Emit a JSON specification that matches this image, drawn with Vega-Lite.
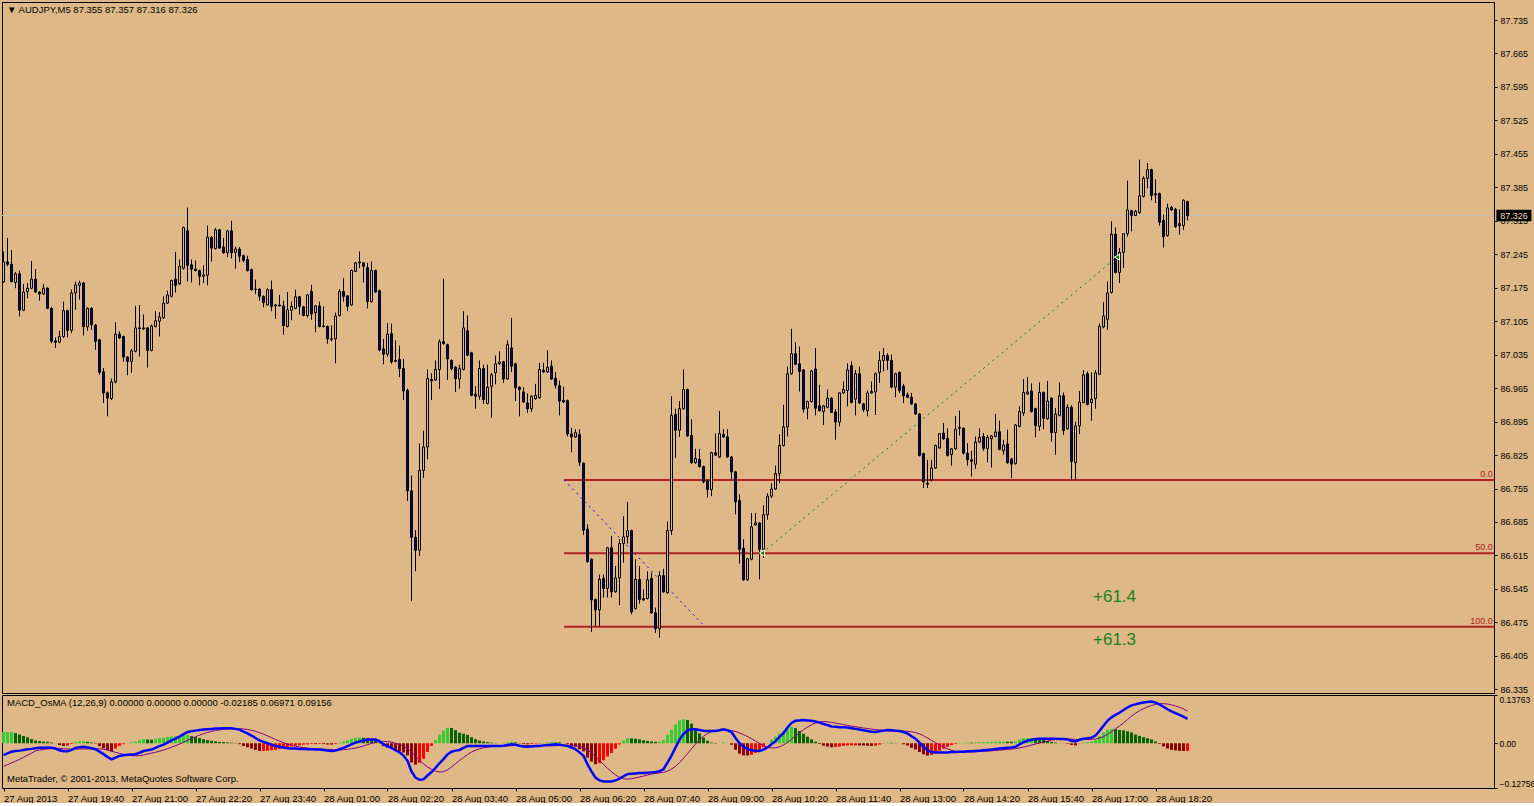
{
"$schema":"https://vega.github.io/schema/vega-lite/v6.json",
"background":"#deb887",
"padding":{"left":-2,"top":1,"right":0,"bottom":0},
"spacing":2,
"bounds":"flush",
"config":{"view":{"stroke":"#000000","strokeWidth":1},"font":"Liberation Sans","axis":{"labelFont":"Liberation Sans","labelFontSize":9,"labelColor":"#000000","tickColor":"#000000","tickSize":3,"labelPadding":3,"domain":false,"grid":false,"title":null,"labelOverlap":false}},
"datasets":{
"bars":[
{"i":0,"open":87.187,"high":87.251,"low":87.185,"close":87.229,"macd":-0.034,"signal":-0.066,"osma":0.032},
{"i":1,"open":87.229,"high":87.279,"low":87.220,"close":87.224,"macd":-0.029,"signal":-0.061,"osma":0.032},
{"i":2,"open":87.224,"high":87.254,"low":87.186,"close":87.188,"macd":-0.024,"signal":-0.056,"osma":0.032},
{"i":3,"open":87.186,"high":87.208,"low":87.174,"close":87.204,"macd":-0.022,"signal":-0.051,"osma":0.029},
{"i":4,"open":87.204,"high":87.211,"low":87.115,"close":87.128,"macd":-0.021,"signal":-0.046,"osma":0.025},
{"i":5,"open":87.128,"high":87.183,"low":87.126,"close":87.166,"macd":-0.019,"signal":-0.040,"osma":0.021},
{"i":6,"open":87.167,"high":87.185,"low":87.153,"close":87.174,"macd":-0.017,"signal":-0.034,"osma":0.017},
{"i":7,"open":87.174,"high":87.231,"low":87.172,"close":87.193,"macd":-0.016,"signal":-0.028,"osma":0.012},
{"i":8,"open":87.193,"high":87.214,"low":87.164,"close":87.166,"macd":-0.014,"signal":-0.0218,"osma":0.0078},
{"i":9,"open":87.166,"high":87.168,"low":87.148,"close":87.162,"macd":-0.013,"signal":-0.0194,"osma":0.0064},
{"i":10,"open":87.162,"high":87.183,"low":87.160,"close":87.174,"macd":-0.013,"signal":-0.0177,"osma":0.0047},
{"i":11,"open":87.174,"high":87.176,"low":87.130,"close":87.132,"macd":-0.012,"signal":-0.0163,"osma":0.0043},
{"i":12,"open":87.132,"high":87.134,"low":87.059,"close":87.063,"macd":-0.013,"signal":-0.0153,"osma":0.0023},
{"i":13,"open":87.064,"high":87.071,"low":87.049,"close":87.061,"macd":-0.015,"signal":-0.0147,"osma":-0.0003},
{"i":14,"open":87.061,"high":87.085,"low":87.059,"close":87.073,"macd":-0.020,"signal":-0.0148,"osma":-0.0052},
{"i":15,"open":87.073,"high":87.146,"low":87.070,"close":87.127,"macd":-0.023,"signal":-0.0154,"osma":-0.0076},
{"i":16,"open":87.127,"high":87.129,"low":87.071,"close":87.086,"macd":-0.023,"signal":-0.0162,"osma":-0.0068},
{"i":17,"open":87.086,"high":87.171,"low":87.080,"close":87.164,"macd":-0.019,"signal":-0.0168,"osma":-0.0022},
{"i":18,"open":87.164,"high":87.188,"low":87.129,"close":87.181,"macd":-0.013,"signal":-0.0168,"osma":0.0038},
{"i":19,"open":87.180,"high":87.190,"low":87.150,"close":87.185,"macd":-0.011,"signal":-0.0166,"osma":0.0056},
{"i":20,"open":87.185,"high":87.187,"low":87.075,"close":87.094,"macd":-0.010,"signal":-0.0163,"osma":0.0063},
{"i":21,"open":87.093,"high":87.134,"low":87.085,"close":87.132,"macd":-0.012,"signal":-0.0162,"osma":0.0042},
{"i":22,"open":87.132,"high":87.134,"low":87.087,"close":87.098,"macd":-0.014,"signal":-0.0161,"osma":0.0021},
{"i":23,"open":87.097,"high":87.099,"low":87.045,"close":87.063,"macd":-0.017,"signal":-0.0158,"osma":-0.0012},
{"i":24,"open":87.066,"high":87.068,"low":86.993,"close":86.998,"macd":-0.024,"signal":-0.0159,"osma":-0.0081},
{"i":25,"open":86.999,"high":87.007,"low":86.934,"close":86.955,"macd":-0.031,"signal":-0.0168,"osma":-0.0142},
{"i":26,"open":86.955,"high":86.958,"low":86.906,"close":86.944,"macd":-0.039,"signal":-0.0190,"osma":-0.0200},
{"i":27,"open":86.943,"high":86.985,"low":86.940,"close":86.978,"macd":-0.046,"signal":-0.0227,"osma":-0.0233},
{"i":28,"open":86.978,"high":87.103,"low":86.975,"close":87.078,"macd":-0.041,"signal":-0.0260,"osma":-0.0150},
{"i":29,"open":87.078,"high":87.084,"low":87.068,"close":87.070,"macd":-0.036,"signal":-0.0289,"osma":-0.0071},
{"i":30,"open":87.073,"high":87.075,"low":87.020,"close":87.030,"macd":-0.034,"signal":-0.0313,"osma":-0.0027},
{"i":31,"open":87.030,"high":87.032,"low":86.992,"close":87.021,"macd":-0.033,"signal":-0.0334,"osma":0.0004},
{"i":32,"open":87.021,"high":87.047,"low":86.997,"close":87.043,"macd":-0.032,"signal":-0.0351,"osma":0.0031},
{"i":33,"open":87.042,"high":87.137,"low":87.040,"close":87.091,"macd":-0.031,"signal":-0.0359,"osma":0.0049},
{"i":34,"open":87.091,"high":87.139,"low":87.031,"close":87.089,"macd":-0.027,"signal":-0.0354,"osma":0.0084},
{"i":35,"open":87.089,"high":87.119,"low":87.087,"close":87.091,"macd":-0.022,"signal":-0.0336,"osma":0.0116},
{"i":36,"open":87.091,"high":87.093,"low":87.008,"close":87.044,"macd":-0.020,"signal":-0.0307,"osma":0.0107},
{"i":37,"open":87.044,"high":87.098,"low":87.042,"close":87.095,"macd":-0.018,"signal":-0.0281,"osma":0.0101},
{"i":38,"open":87.094,"high":87.126,"low":87.092,"close":87.106,"macd":-0.013,"signal":-0.0256,"osma":0.0126},
{"i":39,"open":87.105,"high":87.124,"low":87.073,"close":87.114,"macd":-0.008,"signal":-0.0227,"osma":0.0147},
{"i":40,"open":87.112,"high":87.157,"low":87.110,"close":87.143,"macd":-0.004,"signal":-0.0194,"osma":0.0154},
{"i":41,"open":87.143,"high":87.169,"low":87.141,"close":87.160,"macd":0.002,"signal":-0.0157,"osma":0.0177},
{"i":42,"open":87.157,"high":87.192,"low":87.155,"close":87.190,"macd":0.008,"signal":-0.0113,"osma":0.0193},
{"i":43,"open":87.193,"high":87.250,"low":87.165,"close":87.180,"macd":0.013,"signal":-0.0069,"osma":0.0199},
{"i":44,"open":87.183,"high":87.234,"low":87.181,"close":87.220,"macd":0.019,"signal":-0.0023,"osma":0.0213},
{"i":45,"open":87.216,"high":87.303,"low":87.213,"close":87.301,"macd":0.026,"signal":0.0028,"osma":0.0232},
{"i":46,"open":87.294,"high":87.343,"low":87.188,"close":87.222,"macd":0.032,"signal":0.0083,"osma":0.0237},
{"i":47,"open":87.223,"high":87.234,"low":87.186,"close":87.214,"macd":0.034,"signal":0.0136,"osma":0.0204},
{"i":48,"open":87.214,"high":87.232,"low":87.209,"close":87.211,"macd":0.036,"signal":0.0184,"osma":0.0176},
{"i":49,"open":87.211,"high":87.213,"low":87.180,"close":87.199,"macd":0.038,"signal":0.0231,"osma":0.0149},
{"i":50,"open":87.199,"high":87.222,"low":87.185,"close":87.202,"macd":0.039,"signal":0.0272,"osma":0.0118},
{"i":51,"open":87.201,"high":87.305,"low":87.180,"close":87.281,"macd":0.040,"signal":0.0308,"osma":0.0092},
{"i":52,"open":87.280,"high":87.283,"low":87.230,"close":87.258,"macd":0.041,"signal":0.0339,"osma":0.0071},
{"i":53,"open":87.257,"high":87.300,"low":87.255,"close":87.296,"macd":0.042,"signal":0.0364,"osma":0.0056},
{"i":54,"open":87.296,"high":87.298,"low":87.256,"close":87.258,"macd":0.042,"signal":0.0382,"osma":0.0038},
{"i":55,"open":87.260,"high":87.279,"low":87.246,"close":87.248,"macd":0.043,"signal":0.0394,"osma":0.0036},
{"i":56,"open":87.248,"high":87.296,"low":87.239,"close":87.294,"macd":0.043,"signal":0.0404,"osma":0.0026},
{"i":57,"open":87.294,"high":87.315,"low":87.236,"close":87.248,"macd":0.043,"signal":0.0412,"osma":0.0018},
{"i":58,"open":87.249,"high":87.261,"low":87.215,"close":87.256,"macd":0.041,"signal":0.0416,"osma":-0.0006},
{"i":59,"open":87.256,"high":87.260,"low":87.229,"close":87.241,"macd":0.039,"signal":0.0416,"osma":-0.0026},
{"i":60,"open":87.242,"high":87.244,"low":87.228,"close":87.232,"macd":0.033,"signal":0.0408,"osma":-0.0078},
{"i":61,"open":87.234,"high":87.242,"low":87.209,"close":87.211,"macd":0.028,"signal":0.0393,"osma":-0.0113},
{"i":62,"open":87.213,"high":87.215,"low":87.169,"close":87.171,"macd":0.022,"signal":0.0371,"osma":-0.0151},
{"i":63,"open":87.172,"high":87.192,"low":87.162,"close":87.171,"macd":0.015,"signal":0.0341,"osma":-0.0191},
{"i":64,"open":87.172,"high":87.174,"low":87.148,"close":87.157,"macd":0.008,"signal":0.0302,"osma":-0.0222},
{"i":65,"open":87.157,"high":87.159,"low":87.134,"close":87.144,"macd":0.004,"signal":0.0259,"osma":-0.0219},
{"i":66,"open":87.139,"high":87.174,"low":87.138,"close":87.171,"macd":0.000,"signal":0.0211,"osma":-0.0211},
{"i":67,"open":87.171,"high":87.190,"low":87.126,"close":87.136,"macd":-0.004,"signal":0.0161,"osma":-0.0201},
{"i":68,"open":87.137,"high":87.141,"low":87.110,"close":87.139,"macd":-0.008,"signal":0.0109,"osma":-0.0189},
{"i":69,"open":87.139,"high":87.160,"low":87.136,"close":87.137,"macd":-0.010,"signal":0.0061,"osma":-0.0161},
{"i":70,"open":87.137,"high":87.148,"low":87.077,"close":87.096,"macd":-0.012,"signal":0.0017,"osma":-0.0137},
{"i":71,"open":87.094,"high":87.166,"low":87.092,"close":87.129,"macd":-0.014,"signal":-0.0023,"osma":-0.0117},
{"i":72,"open":87.128,"high":87.146,"low":87.107,"close":87.136,"macd":-0.015,"signal":-0.0057,"osma":-0.0093},
{"i":73,"open":87.132,"high":87.171,"low":87.130,"close":87.156,"macd":-0.015,"signal":-0.0082,"osma":-0.0068},
{"i":74,"open":87.156,"high":87.158,"low":87.119,"close":87.136,"macd":-0.016,"signal":-0.0104,"osma":-0.0056},
{"i":75,"open":87.135,"high":87.137,"low":87.115,"close":87.117,"macd":-0.016,"signal":-0.0122,"osma":-0.0038},
{"i":76,"open":87.117,"high":87.162,"low":87.113,"close":87.160,"macd":-0.017,"signal":-0.0137,"osma":-0.0033},
{"i":77,"open":87.167,"high":87.181,"low":87.108,"close":87.120,"macd":-0.017,"signal":-0.0147,"osma":-0.0023},
{"i":78,"open":87.123,"high":87.139,"low":87.082,"close":87.137,"macd":-0.018,"signal":-0.0156,"osma":-0.0024},
{"i":79,"open":87.137,"high":87.146,"low":87.092,"close":87.094,"macd":-0.018,"signal":-0.0162,"osma":-0.0018},
{"i":80,"open":87.095,"high":87.136,"low":87.092,"close":87.094,"macd":-0.019,"signal":-0.0168,"osma":-0.0022},
{"i":81,"open":87.094,"high":87.096,"low":87.058,"close":87.068,"macd":-0.021,"signal":-0.0174,"osma":-0.0036},
{"i":82,"open":87.068,"high":87.096,"low":87.063,"close":87.067,"macd":-0.022,"signal":-0.0182,"osma":-0.0038},
{"i":83,"open":87.068,"high":87.123,"low":87.017,"close":87.116,"macd":-0.021,"signal":-0.0188,"osma":-0.0022},
{"i":84,"open":87.117,"high":87.172,"low":87.115,"close":87.167,"macd":-0.017,"signal":-0.0189,"osma":0.0019},
{"i":85,"open":87.167,"high":87.195,"low":87.146,"close":87.157,"macd":-0.013,"signal":-0.0184,"osma":0.0054},
{"i":86,"open":87.158,"high":87.160,"low":87.126,"close":87.136,"macd":-0.008,"signal":-0.0174,"osma":0.0094},
{"i":87,"open":87.139,"high":87.213,"low":87.137,"close":87.211,"macd":-0.003,"signal":-0.0158,"osma":0.0128},
{"i":88,"open":87.209,"high":87.229,"low":87.209,"close":87.227,"macd":0.002,"signal":-0.0136,"osma":0.0156},
{"i":89,"open":87.227,"high":87.251,"low":87.216,"close":87.229,"macd":0.005,"signal":-0.0109,"osma":0.0159},
{"i":90,"open":87.227,"high":87.229,"low":87.186,"close":87.220,"macd":0.008,"signal":-0.0077,"osma":0.0157},
{"i":91,"open":87.217,"high":87.227,"low":87.132,"close":87.146,"macd":0.011,"signal":-0.0040,"osma":0.0150},
{"i":92,"open":87.146,"high":87.230,"low":87.144,"close":87.211,"macd":0.011,"signal":-0.0004,"osma":0.0114},
{"i":93,"open":87.211,"high":87.213,"low":87.164,"close":87.166,"macd":0.011,"signal":0.0027,"osma":0.0083},
{"i":94,"open":87.169,"high":87.171,"low":87.042,"close":87.045,"macd":0.006,"signal":0.0048,"osma":0.0012},
{"i":95,"open":87.047,"high":87.068,"low":87.015,"close":87.036,"macd":-0.003,"signal":0.0053,"osma":-0.0083},
{"i":96,"open":87.036,"high":87.101,"low":87.031,"close":87.078,"macd":-0.008,"signal":0.0048,"osma":-0.0128},
{"i":97,"open":87.079,"high":87.100,"low":87.016,"close":87.020,"macd":-0.013,"signal":0.0031,"osma":-0.0161},
{"i":98,"open":87.021,"high":87.065,"low":87.019,"close":87.023,"macd":-0.020,"signal":0.0003,"osma":-0.0203},
{"i":99,"open":87.025,"high":87.054,"low":86.988,"close":87.006,"macd":-0.026,"signal":-0.0034,"osma":-0.0226},
{"i":100,"open":87.006,"high":87.026,"low":86.940,"close":86.959,"macd":-0.035,"signal":-0.0086,"osma":-0.0264},
{"i":101,"open":86.960,"high":86.964,"low":86.729,"close":86.750,"macd":-0.050,"signal":-0.0153,"osma":-0.0347},
{"i":102,"open":86.750,"high":86.782,"low":86.520,"close":86.653,"macd":-0.080,"signal":-0.0254,"osma":-0.0546},
{"i":103,"open":86.653,"high":86.668,"low":86.582,"close":86.626,"macd":-0.098,"signal":-0.0370,"osma":-0.0610},
{"i":104,"open":86.626,"high":86.849,"low":86.614,"close":86.793,"macd":-0.104,"signal":-0.0482,"osma":-0.0558},
{"i":105,"open":86.793,"high":86.876,"low":86.777,"close":86.842,"macd":-0.103,"signal":-0.0588,"osma":-0.0442},
{"i":106,"open":86.842,"high":87.004,"low":86.816,"close":86.985,"macd":-0.092,"signal":-0.0676,"osma":-0.0244},
{"i":107,"open":86.983,"high":86.996,"low":86.940,"close":86.980,"macd":-0.082,"signal":-0.0744,"osma":-0.0076},
{"i":108,"open":86.982,"high":87.023,"low":86.980,"close":87.004,"macd":-0.070,"signal":-0.0793,"osma":0.0093},
{"i":109,"open":87.004,"high":87.067,"low":86.963,"close":87.062,"macd":-0.057,"signal":-0.0818,"osma":0.0248},
{"i":110,"open":87.062,"high":87.194,"low":87.056,"close":87.058,"macd":-0.045,"signal":-0.0812,"osma":0.0362},
{"i":111,"open":87.056,"high":87.058,"low":86.982,"close":87.026,"macd":-0.032,"signal":-0.0759,"osma":0.0439},
{"i":112,"open":87.023,"high":87.025,"low":87.002,"close":87.006,"macd":-0.024,"signal":-0.0677,"osma":0.0437},
{"i":113,"open":87.009,"high":87.011,"low":86.957,"close":86.985,"macd":-0.021,"signal":-0.0584,"osma":0.0374},
{"i":114,"open":86.984,"high":87.014,"low":86.964,"close":87.006,"macd":-0.019,"signal":-0.0491,"osma":0.0301},
{"i":115,"open":87.004,"high":87.126,"low":87.002,"close":87.091,"macd":-0.013,"signal":-0.0403,"osma":0.0273},
{"i":116,"open":87.085,"high":87.117,"low":87.032,"close":87.034,"macd":-0.008,"signal":-0.0321,"osma":0.0241},
{"i":117,"open":87.039,"high":87.041,"low":86.948,"close":86.950,"macd":-0.008,"signal":-0.0252,"osma":0.0172},
{"i":118,"open":86.952,"high":86.969,"low":86.922,"close":86.948,"macd":-0.008,"signal":-0.0198,"osma":0.0118},
{"i":119,"open":86.948,"high":87.023,"low":86.941,"close":87.006,"macd":-0.008,"signal":-0.0157,"osma":0.0077},
{"i":120,"open":87.006,"high":87.014,"low":86.932,"close":86.941,"macd":-0.008,"signal":-0.0130,"osma":0.0050},
{"i":121,"open":86.933,"high":87.014,"low":86.931,"close":86.967,"macd":-0.008,"signal":-0.0112,"osma":0.0032},
{"i":122,"open":86.969,"high":86.997,"low":86.903,"close":86.993,"macd":-0.008,"signal":-0.0098,"osma":0.0018},
{"i":123,"open":86.997,"high":87.033,"low":86.973,"close":87.016,"macd":-0.008,"signal":-0.0086,"osma":0.0006},
{"i":124,"open":87.016,"high":87.042,"low":87.014,"close":87.020,"macd":-0.008,"signal":-0.0080,"osma":0.0000},
{"i":125,"open":87.020,"high":87.022,"low":86.976,"close":86.984,"macd":-0.007,"signal":-0.0079,"osma":0.0009},
{"i":126,"open":86.984,"high":87.065,"low":86.982,"close":87.056,"macd":-0.005,"signal":-0.0076,"osma":0.0026},
{"i":127,"open":87.049,"high":87.112,"low":86.999,"close":87.011,"macd":-0.003,"signal":-0.0070,"osma":0.0040},
{"i":128,"open":87.016,"high":87.018,"low":86.938,"close":86.966,"macd":-0.004,"signal":-0.0066,"osma":0.0026},
{"i":129,"open":86.967,"high":86.969,"low":86.906,"close":86.962,"macd":-0.007,"signal":-0.0064,"osma":-0.0006},
{"i":130,"open":86.957,"high":86.967,"low":86.934,"close":86.936,"macd":-0.009,"signal":-0.0066,"osma":-0.0024},
{"i":131,"open":86.934,"high":86.954,"low":86.913,"close":86.922,"macd":-0.010,"signal":-0.0068,"osma":-0.0032},
{"i":132,"open":86.922,"high":86.950,"low":86.915,"close":86.948,"macd":-0.009,"signal":-0.0069,"osma":-0.0021},
{"i":133,"open":86.943,"high":86.974,"low":86.941,"close":86.950,"macd":-0.008,"signal":-0.0069,"osma":-0.0011},
{"i":134,"open":86.945,"high":87.018,"low":86.943,"close":87.004,"macd":-0.008,"signal":-0.0070,"osma":-0.0010},
{"i":135,"open":87.002,"high":87.018,"low":86.997,"close":86.999,"macd":-0.006,"signal":-0.0071,"osma":0.0011},
{"i":136,"open":86.999,"high":87.044,"low":86.997,"close":87.009,"macd":-0.005,"signal":-0.0073,"osma":0.0023},
{"i":137,"open":87.011,"high":87.023,"low":86.982,"close":86.984,"macd":-0.004,"signal":-0.0073,"osma":0.0033},
{"i":138,"open":86.986,"high":86.999,"low":86.964,"close":86.971,"macd":-0.003,"signal":-0.0069,"osma":0.0039},
{"i":139,"open":86.970,"high":86.981,"low":86.908,"close":86.938,"macd":-0.004,"signal":-0.0063,"osma":0.0023},
{"i":140,"open":86.939,"high":86.968,"low":86.934,"close":86.936,"macd":-0.006,"signal":-0.0059,"osma":-0.0001},
{"i":141,"open":86.939,"high":86.941,"low":86.864,"close":86.869,"macd":-0.008,"signal":-0.0058,"osma":-0.0022},
{"i":142,"open":86.869,"high":86.882,"low":86.831,"close":86.863,"macd":-0.012,"signal":-0.0062,"osma":-0.0058},
{"i":143,"open":86.863,"high":86.879,"low":86.861,"close":86.872,"macd":-0.017,"signal":-0.0072,"osma":-0.0098},
{"i":144,"open":86.868,"high":86.879,"low":86.802,"close":86.810,"macd":-0.026,"signal":-0.0094,"osma":-0.0166},
{"i":145,"open":86.808,"high":86.810,"low":86.658,"close":86.668,"macd":-0.036,"signal":-0.0129,"osma":-0.0231},
{"i":146,"open":86.670,"high":86.680,"low":86.600,"close":86.602,"macd":-0.060,"signal":-0.0191,"osma":-0.0409},
{"i":147,"open":86.607,"high":86.609,"low":86.455,"close":86.522,"macd":-0.080,"signal":-0.0277,"osma":-0.0523},
{"i":148,"open":86.523,"high":86.525,"low":86.467,"close":86.501,"macd":-0.098,"signal":-0.0381,"osma":-0.0599},
{"i":149,"open":86.501,"high":86.575,"low":86.467,"close":86.565,"macd":-0.106,"signal":-0.0492,"osma":-0.0568},
{"i":150,"open":86.567,"high":86.575,"low":86.527,"close":86.546,"macd":-0.109,"signal":-0.0604,"osma":-0.0486},
{"i":151,"open":86.546,"high":86.633,"low":86.527,"close":86.631,"macd":-0.109,"signal":-0.0712,"osma":-0.0378},
{"i":152,"open":86.631,"high":86.656,"low":86.527,"close":86.539,"macd":-0.109,"signal":-0.0814,"osma":-0.0276},
{"i":153,"open":86.539,"high":86.593,"low":86.537,"close":86.568,"macd":-0.106,"signal":-0.0903,"osma":-0.0157},
{"i":154,"open":86.568,"high":86.649,"low":86.511,"close":86.640,"macd":-0.101,"signal":-0.0976,"osma":-0.0034},
{"i":155,"open":86.640,"high":86.697,"low":86.600,"close":86.654,"macd":-0.094,"signal":-0.1013,"osma":0.0073},
{"i":156,"open":86.654,"high":86.727,"low":86.640,"close":86.667,"macd":-0.088,"signal":-0.1022,"osma":0.0142},
{"i":157,"open":86.667,"high":86.669,"low":86.492,"close":86.497,"macd":-0.087,"signal":-0.1010,"osma":0.0140},
{"i":158,"open":86.504,"high":86.607,"low":86.502,"close":86.565,"macd":-0.086,"signal":-0.0988,"osma":0.0128},
{"i":159,"open":86.565,"high":86.593,"low":86.514,"close":86.523,"macd":-0.085,"signal":-0.0961,"osma":0.0111},
{"i":160,"open":86.525,"high":86.544,"low":86.520,"close":86.522,"macd":-0.085,"signal":-0.0934,"osma":0.0084},
{"i":161,"open":86.525,"high":86.582,"low":86.523,"close":86.564,"macd":-0.084,"signal":-0.0907,"osma":0.0067},
{"i":162,"open":86.567,"high":86.579,"low":86.493,"close":86.495,"macd":-0.083,"signal":-0.0881,"osma":0.0051},
{"i":163,"open":86.495,"high":86.506,"low":86.453,"close":86.462,"macd":-0.082,"signal":-0.0860,"osma":0.0040},
{"i":164,"open":86.462,"high":86.582,"low":86.443,"close":86.573,"macd":-0.080,"signal":-0.0844,"osma":0.0044},
{"i":165,"open":86.573,"high":86.587,"low":86.537,"close":86.539,"macd":-0.074,"signal":-0.0829,"osma":0.0089},
{"i":166,"open":86.537,"high":86.686,"low":86.535,"close":86.667,"macd":-0.055,"signal":-0.0793,"osma":0.0243},
{"i":167,"open":86.667,"high":86.948,"low":86.658,"close":86.908,"macd":-0.035,"signal":-0.0737,"osma":0.0387},
{"i":168,"open":86.910,"high":86.922,"low":86.819,"close":86.877,"macd":-0.012,"signal":-0.0656,"osma":0.0536},
{"i":169,"open":86.877,"high":86.938,"low":86.863,"close":86.922,"macd":0.010,"signal":-0.0550,"osma":0.0650},
{"i":170,"open":86.922,"high":87.004,"low":86.920,"close":86.962,"macd":0.026,"signal":-0.0428,"osma":0.0688},
{"i":171,"open":86.962,"high":86.964,"low":86.863,"close":86.865,"macd":0.037,"signal":-0.0294,"osma":0.0664},
{"i":172,"open":86.866,"high":86.900,"low":86.807,"close":86.809,"macd":0.040,"signal":-0.0159,"osma":0.0559},
{"i":173,"open":86.809,"high":86.838,"low":86.807,"close":86.818,"macd":0.040,"signal":-0.0026,"osma":0.0426},
{"i":174,"open":86.816,"high":86.838,"low":86.799,"close":86.801,"macd":0.038,"signal":0.0099,"osma":0.0281},
{"i":175,"open":86.801,"high":86.803,"low":86.766,"close":86.769,"macd":0.036,"signal":0.0200,"osma":0.0160},
{"i":176,"open":86.771,"high":86.773,"low":86.736,"close":86.753,"macd":0.035,"signal":0.0278,"osma":0.0072},
{"i":177,"open":86.753,"high":86.832,"low":86.739,"close":86.830,"macd":0.035,"signal":0.0330,"osma":0.0020},
{"i":178,"open":86.830,"high":86.870,"low":86.823,"close":86.825,"macd":0.035,"signal":0.0358,"osma":-0.0008},
{"i":179,"open":86.821,"high":86.917,"low":86.819,"close":86.870,"macd":0.037,"signal":0.0370,"osma":0.0000},
{"i":180,"open":86.868,"high":86.879,"low":86.861,"close":86.863,"macd":0.040,"signal":0.0373,"osma":0.0027},
{"i":181,"open":86.863,"high":86.879,"low":86.819,"close":86.821,"macd":0.037,"signal":0.0370,"osma":0.0000},
{"i":182,"open":86.821,"high":86.823,"low":86.775,"close":86.790,"macd":0.032,"signal":0.0361,"osma":-0.0041},
{"i":183,"open":86.790,"high":86.792,"low":86.701,"close":86.727,"macd":0.015,"signal":0.0336,"osma":-0.0186},
{"i":184,"open":86.730,"high":86.743,"low":86.598,"close":86.628,"macd":0.000,"signal":0.0296,"osma":-0.0296},
{"i":185,"open":86.630,"high":86.649,"low":86.562,"close":86.564,"macd":-0.010,"signal":0.0246,"osma":-0.0346},
{"i":186,"open":86.564,"high":86.610,"low":86.562,"close":86.608,"macd":-0.016,"signal":0.0189,"osma":-0.0349},
{"i":187,"open":86.607,"high":86.704,"low":86.605,"close":86.675,"macd":-0.020,"signal":0.0128,"osma":-0.0328},
{"i":188,"open":86.679,"high":86.704,"low":86.677,"close":86.683,"macd":-0.021,"signal":0.0063,"osma":-0.0273},
{"i":189,"open":86.683,"high":86.685,"low":86.565,"close":86.628,"macd":-0.022,"signal":-0.0006,"osma":-0.0214},
{"i":190,"open":86.628,"high":86.720,"low":86.610,"close":86.700,"macd":-0.018,"signal":-0.0067,"osma":-0.0113},
{"i":191,"open":86.700,"high":86.745,"low":86.690,"close":86.739,"macd":-0.012,"signal":-0.0116,"osma":-0.0004},
{"i":192,"open":86.739,"high":86.766,"low":86.735,"close":86.754,"macd":-0.003,"signal":-0.0136,"osma":0.0106},
{"i":193,"open":86.754,"high":86.803,"low":86.752,"close":86.786,"macd":0.006,"signal":-0.0129,"osma":0.0189},
{"i":194,"open":86.786,"high":86.868,"low":86.766,"close":86.845,"macd":0.018,"signal":-0.0098,"osma":0.0278},
{"i":195,"open":86.845,"high":86.930,"low":86.843,"close":86.884,"macd":0.029,"signal":-0.0048,"osma":0.0338},
{"i":196,"open":86.884,"high":87.010,"low":86.864,"close":86.995,"macd":0.045,"signal":0.0024,"osma":0.0426},
{"i":197,"open":86.995,"high":87.089,"low":86.993,"close":87.037,"macd":0.058,"signal":0.0112,"osma":0.0468},
{"i":198,"open":87.037,"high":87.061,"low":87.013,"close":87.015,"macd":0.064,"signal":0.0208,"osma":0.0432},
{"i":199,"open":87.016,"high":87.052,"low":86.958,"close":87.000,"macd":0.065,"signal":0.0300,"osma":0.0350},
{"i":200,"open":87.003,"high":87.005,"low":86.914,"close":86.921,"macd":0.066,"signal":0.0387,"osma":0.0273},
{"i":201,"open":86.923,"high":86.939,"low":86.900,"close":86.937,"macd":0.065,"signal":0.0462,"osma":0.0188},
{"i":202,"open":86.937,"high":87.003,"low":86.935,"close":87.001,"macd":0.064,"signal":0.0527,"osma":0.0113},
{"i":203,"open":87.005,"high":87.049,"low":86.908,"close":86.923,"macd":0.062,"signal":0.0576,"osma":0.0044},
{"i":204,"open":86.928,"high":86.972,"low":86.916,"close":86.918,"macd":0.059,"signal":0.0609,"osma":-0.0019},
{"i":205,"open":86.916,"high":86.930,"low":86.888,"close":86.928,"macd":0.055,"signal":0.0620,"osma":-0.0070},
{"i":206,"open":86.925,"high":86.962,"low":86.923,"close":86.944,"macd":0.052,"signal":0.0613,"osma":-0.0093},
{"i":207,"open":86.944,"high":86.946,"low":86.913,"close":86.914,"macd":0.048,"signal":0.0596,"osma":-0.0116},
{"i":208,"open":86.915,"high":86.921,"low":86.857,"close":86.894,"macd":0.047,"signal":0.0576,"osma":-0.0106},
{"i":209,"open":86.894,"high":86.956,"low":86.885,"close":86.955,"macd":0.046,"signal":0.0553,"osma":-0.0093},
{"i":210,"open":86.955,"high":86.979,"low":86.953,"close":86.962,"macd":0.046,"signal":0.0532,"osma":-0.0072},
{"i":211,"open":86.960,"high":87.017,"low":86.927,"close":87.003,"macd":0.045,"signal":0.0511,"osma":-0.0061},
{"i":212,"open":87.012,"high":87.021,"low":86.933,"close":86.935,"macd":0.043,"signal":0.0490,"osma":-0.0060},
{"i":213,"open":86.942,"high":87.003,"low":86.908,"close":86.995,"macd":0.041,"signal":0.0470,"osma":-0.0060},
{"i":214,"open":86.995,"high":87.010,"low":86.932,"close":86.934,"macd":0.039,"signal":0.0452,"osma":-0.0062},
{"i":215,"open":86.932,"high":86.934,"low":86.915,"close":86.920,"macd":0.037,"signal":0.0436,"osma":-0.0066},
{"i":216,"open":86.918,"high":86.960,"low":86.906,"close":86.955,"macd":0.035,"signal":0.0421,"osma":-0.0071},
{"i":217,"open":86.955,"high":86.979,"low":86.953,"close":86.958,"macd":0.033,"signal":0.0406,"osma":-0.0076},
{"i":218,"open":86.957,"high":86.998,"low":86.909,"close":86.995,"macd":0.032,"signal":0.0390,"osma":-0.0070},
{"i":219,"open":86.998,"high":87.042,"low":86.976,"close":87.023,"macd":0.034,"signal":0.0377,"osma":-0.0037},
{"i":220,"open":87.023,"high":87.049,"low":87.000,"close":87.033,"macd":0.036,"signal":0.0367,"osma":-0.0007},
{"i":221,"open":87.033,"high":87.038,"low":87.003,"close":87.023,"macd":0.038,"signal":0.0361,"osma":0.0019},
{"i":222,"open":87.023,"high":87.035,"low":86.965,"close":86.967,"macd":0.037,"signal":0.0357,"osma":0.0013},
{"i":223,"open":86.967,"high":86.997,"low":86.946,"close":86.995,"macd":0.036,"signal":0.0353,"osma":0.0007},
{"i":224,"open":86.998,"high":87.000,"low":86.955,"close":86.960,"macd":0.035,"signal":0.0351,"osma":-0.0001},
{"i":225,"open":86.969,"high":86.974,"low":86.934,"close":86.949,"macd":0.032,"signal":0.0348,"osma":-0.0028},
{"i":226,"open":86.951,"high":86.956,"low":86.944,"close":86.946,"macd":0.028,"signal":0.0342,"osma":-0.0062},
{"i":227,"open":86.946,"high":86.955,"low":86.930,"close":86.932,"macd":0.020,"signal":0.0329,"osma":-0.0129},
{"i":228,"open":86.932,"high":86.934,"low":86.909,"close":86.911,"macd":0.013,"signal":0.0306,"osma":-0.0176},
{"i":229,"open":86.911,"high":86.913,"low":86.822,"close":86.824,"macd":0.002,"signal":0.0268,"osma":-0.0248},
{"i":230,"open":86.828,"high":86.830,"low":86.756,"close":86.769,"macd":-0.010,"signal":0.0214,"osma":-0.0314},
{"i":231,"open":86.766,"high":86.815,"low":86.756,"close":86.764,"macd":-0.020,"signal":0.0151,"osma":-0.0351},
{"i":232,"open":86.773,"high":86.815,"low":86.770,"close":86.798,"macd":-0.025,"signal":0.0083,"osma":-0.0333},
{"i":233,"open":86.798,"high":86.847,"low":86.796,"close":86.845,"macd":-0.026,"signal":0.0016,"osma":-0.0276},
{"i":234,"open":86.840,"high":86.871,"low":86.838,"close":86.870,"macd":-0.026,"signal":-0.0049,"osma":-0.0211},
{"i":235,"open":86.871,"high":86.892,"low":86.857,"close":86.859,"macd":-0.026,"signal":-0.0109,"osma":-0.0151},
{"i":236,"open":86.860,"high":86.881,"low":86.822,"close":86.824,"macd":-0.026,"signal":-0.0160,"osma":-0.0100},
{"i":237,"open":86.826,"high":86.840,"low":86.803,"close":86.838,"macd":-0.025,"signal":-0.0202,"osma":-0.0048},
{"i":238,"open":86.838,"high":86.907,"low":86.836,"close":86.879,"macd":-0.025,"signal":-0.0232,"osma":-0.0018},
{"i":239,"open":86.881,"high":86.918,"low":86.866,"close":86.883,"macd":-0.024,"signal":-0.0248,"osma":0.0008},
{"i":240,"open":86.881,"high":86.883,"low":86.826,"close":86.829,"macd":-0.024,"signal":-0.0252,"osma":0.0012},
{"i":241,"open":86.829,"high":86.850,"low":86.803,"close":86.815,"macd":-0.023,"signal":-0.0250,"osma":0.0020},
{"i":242,"open":86.815,"high":86.834,"low":86.780,"close":86.812,"macd":-0.023,"signal":-0.0247,"osma":0.0017},
{"i":243,"open":86.806,"high":86.864,"low":86.796,"close":86.852,"macd":-0.022,"signal":-0.0242,"osma":0.0022},
{"i":244,"open":86.852,"high":86.881,"low":86.850,"close":86.862,"macd":-0.021,"signal":-0.0237,"osma":0.0027},
{"i":245,"open":86.864,"high":86.871,"low":86.834,"close":86.839,"macd":-0.020,"signal":-0.0230,"osma":0.0030},
{"i":246,"open":86.839,"high":86.867,"low":86.810,"close":86.862,"macd":-0.019,"signal":-0.0223,"osma":0.0033},
{"i":247,"open":86.859,"high":86.867,"low":86.799,"close":86.865,"macd":-0.018,"signal":-0.0216,"osma":0.0036},
{"i":248,"open":86.864,"high":86.911,"low":86.862,"close":86.873,"macd":-0.016,"signal":-0.0207,"osma":0.0047},
{"i":249,"open":86.874,"high":86.897,"low":86.835,"close":86.837,"macd":-0.015,"signal":-0.0197,"osma":0.0047},
{"i":250,"open":86.834,"high":86.857,"low":86.826,"close":86.846,"macd":-0.014,"signal":-0.0187,"osma":0.0047},
{"i":251,"open":86.848,"high":86.878,"low":86.807,"close":86.809,"macd":-0.013,"signal":-0.0176,"osma":0.0046},
{"i":252,"open":86.817,"high":86.819,"low":86.777,"close":86.806,"macd":-0.012,"signal":-0.0164,"osma":0.0044},
{"i":253,"open":86.807,"high":86.890,"low":86.805,"close":86.888,"macd":-0.010,"signal":-0.0152,"osma":0.0052},
{"i":254,"open":86.885,"high":86.927,"low":86.883,"close":86.916,"macd":-0.003,"signal":-0.0133,"osma":0.0103},
{"i":255,"open":86.913,"high":86.984,"low":86.907,"close":86.956,"macd":0.003,"signal":-0.0109,"osma":0.0139},
{"i":256,"open":86.953,"high":86.988,"low":86.951,"close":86.957,"macd":0.007,"signal":-0.0081,"osma":0.0151},
{"i":257,"open":86.959,"high":86.975,"low":86.914,"close":86.916,"macd":0.010,"signal":-0.0052,"osma":0.0152},
{"i":258,"open":86.922,"high":86.924,"low":86.862,"close":86.887,"macd":0.012,"signal":-0.0022,"osma":0.0142},
{"i":259,"open":86.885,"high":86.977,"low":86.876,"close":86.956,"macd":0.013,"signal":0.0008,"osma":0.0122},
{"i":260,"open":86.956,"high":86.958,"low":86.879,"close":86.902,"macd":0.013,"signal":0.0037,"osma":0.0093},
{"i":261,"open":86.901,"high":86.980,"low":86.899,"close":86.938,"macd":0.013,"signal":0.0064,"osma":0.0066},
{"i":262,"open":86.944,"high":86.946,"low":86.853,"close":86.872,"macd":0.013,"signal":0.0090,"osma":0.0040},
{"i":263,"open":86.872,"high":86.923,"low":86.826,"close":86.911,"macd":0.013,"signal":0.0108,"osma":0.0022},
{"i":264,"open":86.908,"high":86.977,"low":86.906,"close":86.949,"macd":0.012,"signal":0.0118,"osma":0.0002},
{"i":265,"open":86.949,"high":86.956,"low":86.867,"close":86.876,"macd":0.012,"signal":0.0123,"osma":-0.0003},
{"i":266,"open":86.880,"high":86.931,"low":86.878,"close":86.925,"macd":0.011,"signal":0.0124,"osma":-0.0014},
{"i":267,"open":86.925,"high":86.929,"low":86.773,"close":86.812,"macd":0.007,"signal":0.0119,"osma":-0.0049},
{"i":268,"open":86.809,"high":86.895,"low":86.773,"close":86.886,"macd":0.005,"signal":0.0110,"osma":-0.0060},
{"i":269,"open":86.886,"high":86.959,"low":86.869,"close":86.936,"macd":0.010,"signal":0.0107,"osma":-0.0007},
{"i":270,"open":86.935,"high":87.003,"low":86.933,"close":86.993,"macd":0.013,"signal":0.0107,"osma":0.0023},
{"i":271,"open":86.995,"high":87.000,"low":86.929,"close":86.931,"macd":0.014,"signal":0.0108,"osma":0.0032},
{"i":272,"open":86.935,"high":86.998,"low":86.897,"close":86.942,"macd":0.016,"signal":0.0111,"osma":0.0049},
{"i":273,"open":86.943,"high":87.003,"low":86.922,"close":86.997,"macd":0.022,"signal":0.0122,"osma":0.0098},
{"i":274,"open":86.994,"high":87.100,"low":86.992,"close":87.094,"macd":0.035,"signal":0.0148,"osma":0.0202},
{"i":275,"open":87.093,"high":87.145,"low":87.090,"close":87.116,"macd":0.050,"signal":0.0191,"osma":0.0309},
{"i":276,"open":87.109,"high":87.188,"low":87.087,"close":87.164,"macd":0.064,"signal":0.0254,"osma":0.0386},
{"i":277,"open":87.165,"high":87.314,"low":87.163,"close":87.287,"macd":0.074,"signal":0.0331,"osma":0.0409},
{"i":278,"open":87.287,"high":87.301,"low":87.205,"close":87.207,"macd":0.081,"signal":0.0410,"osma":0.0400},
{"i":279,"open":87.207,"high":87.258,"low":87.185,"close":87.249,"macd":0.087,"signal":0.0492,"osma":0.0378},
{"i":280,"open":87.249,"high":87.289,"low":87.216,"close":87.288,"macd":0.095,"signal":0.0582,"osma":0.0368},
{"i":281,"open":87.288,"high":87.399,"low":87.282,"close":87.338,"macd":0.102,"signal":0.0678,"osma":0.0342},
{"i":282,"open":87.336,"high":87.338,"low":87.293,"close":87.326,"macd":0.108,"signal":0.0773,"osma":0.0307},
{"i":283,"open":87.326,"high":87.338,"low":87.325,"close":87.335,"macd":0.111,"signal":0.0858,"osma":0.0252},
{"i":284,"open":87.332,"high":87.443,"low":87.330,"close":87.367,"macd":0.114,"signal":0.0929,"osma":0.0211},
{"i":285,"open":87.366,"high":87.408,"low":87.364,"close":87.404,"macd":0.116,"signal":0.0987,"osma":0.0173},
{"i":286,"open":87.404,"high":87.436,"low":87.383,"close":87.422,"macd":0.118,"signal":0.1036,"osma":0.0144},
{"i":287,"open":87.422,"high":87.424,"low":87.358,"close":87.368,"macd":0.119,"signal":0.1078,"osma":0.0112},
{"i":288,"open":87.372,"high":87.402,"low":87.352,"close":87.369,"macd":0.116,"signal":0.1110,"osma":0.0050},
{"i":289,"open":87.372,"high":87.374,"low":87.305,"close":87.312,"macd":0.111,"signal":0.1128,"osma":-0.0018},
{"i":290,"open":87.316,"high":87.328,"low":87.259,"close":87.282,"macd":0.104,"signal":0.1130,"osma":-0.0090},
{"i":291,"open":87.284,"high":87.351,"low":87.282,"close":87.342,"macd":0.097,"signal":0.1118,"osma":-0.0148},
{"i":292,"open":87.343,"high":87.346,"low":87.336,"close":87.338,"macd":0.091,"signal":0.1096,"osma":-0.0186},
{"i":293,"open":87.339,"high":87.342,"low":87.300,"close":87.303,"macd":0.086,"signal":0.1064,"osma":-0.0204},
{"i":294,"open":87.309,"high":87.339,"low":87.286,"close":87.305,"macd":0.081,"signal":0.1026,"osma":-0.0216},
{"i":295,"open":87.305,"high":87.360,"low":87.296,"close":87.358,"macd":0.076,"signal":0.0979,"osma":-0.0219},
{"i":296,"open":87.355,"high":87.357,"low":87.316,"close":87.326,"macd":0.06971,"signal":0.09156,"osma":-0.02185}
],
"fib":[
{"level":"0.0","price":86.773,"start":140.125},
{"level":"50.0","price":86.6195,"start":140.125},
{"level":"100.0","price":86.466,"start":140.125}
],
"lines":[
{"name":"fibo","x1":140.125,"p1":86.773,"x2":175.375,"p2":86.466},
{"name":"trade","x1":189.625,"p1":86.620,"x2":278.375,"p2":87.239}
],
"arrows":[
{"x":189.625,"p":86.620},
{"x":278.375,"p":87.239}
],
"notes":[
{"x":272.375,"p":86.528,"label":"+61.4"},
{"x":272.375,"p":86.438,"label":"+61.3"}
]
},
"vconcat":[
{
"width":1492,"height":691,
"layer":[
{"data":{"values":[{"bid":87.326}]},
 "mark":{"type":"rule","color":"#c0c0c0","strokeWidth":1},
 "encoding":{
  "x":{"datum":-0.375,"type":"quantitative","scale":{"domain":[-0.375,372.625],"nice":false,"zero":false,"padding":0},"axis":null},
  "x2":{"datum":372.625},
  "y":{"field":"bid","type":"quantitative","title":null,"scale":{"domain":[86.3273,87.7727],"nice":false,"zero":false,"padding":0},
   "axis":{"orient":"right","values":[86.335,86.405,86.475,86.545,86.615,86.685,86.755,86.825,86.895,86.965,87.035,87.105,87.175,87.245,87.315,87.385,87.455,87.525,87.595,87.665,87.735],"format":".3f","labelOverlap":false,"labelSeparation":0,"zindex":0,"tickSize":3,"labelPadding":3}}}},
{"data":{"name":"fib"},
 "mark":{"type":"rule","color":"#b22222","strokeWidth":2},
 "encoding":{
  "x":{"field":"start","type":"quantitative","axis":null},
  "x2":{"datum":372.625},
  "y":{"field":"price","type":"quantitative","title":null,"axis":{"orient":"right","values":[86.335,86.405,86.475,86.545,86.615,86.685,86.755,86.825,86.895,86.965,87.035,87.105,87.175,87.245,87.315,87.385,87.455,87.525,87.595,87.665,87.735],"format":".3f","labelOverlap":false,"labelSeparation":0,"zindex":0,"tickSize":3,"labelPadding":3}}}},
{"data":{"name":"fib"},
 "mark":{"type":"text","color":"#b22222","fontSize":9,"align":"right","baseline":"bottom","dy":-1,"font":"Liberation Sans"},
 "encoding":{
  "x":{"datum":372.3,"type":"quantitative","axis":null},
  "y":{"field":"price","type":"quantitative","title":null,"axis":{"orient":"right","values":[86.335,86.405,86.475,86.545,86.615,86.685,86.755,86.825,86.895,86.965,87.035,87.105,87.175,87.245,87.315,87.385,87.455,87.525,87.595,87.665,87.735],"format":".3f","labelOverlap":false,"labelSeparation":0,"zindex":0,"tickSize":3,"labelPadding":3}},
  "text":{"field":"level"}}},
{"data":{"name":"lines"},
 "mark":{"type":"rule","strokeWidth":1,"strokeDash":[2,4]},
 "encoding":{
  "x":{"field":"x1","type":"quantitative","axis":null},
  "x2":{"field":"x2"},
  "y":{"field":"p1","type":"quantitative","title":null,"axis":{"orient":"right","values":[86.335,86.405,86.475,86.545,86.615,86.685,86.755,86.825,86.895,86.965,87.035,87.105,87.175,87.245,87.315,87.385,87.455,87.525,87.595,87.665,87.735],"format":".3f","labelOverlap":false,"labelSeparation":0,"zindex":0,"tickSize":3,"labelPadding":3}},
  "y2":{"field":"p2"},
  "color":{"field":"name","type":"nominal","scale":{"domain":["fibo","trade"],"range":["#0000ff","#008000"]},"legend":null}}},
{"data":{"name":"bars"},
 "mark":{"type":"rule","color":"#000000","strokeWidth":1},
 "encoding":{
  "x":{"field":"i","type":"quantitative","axis":null},
  "y":{"field":"low","type":"quantitative","title":null,"axis":{"orient":"right","values":[86.335,86.405,86.475,86.545,86.615,86.685,86.755,86.825,86.895,86.965,87.035,87.105,87.175,87.245,87.315,87.385,87.455,87.525,87.595,87.665,87.735],"format":".3f","labelOverlap":false,"labelSeparation":0,"zindex":0,"tickSize":3,"labelPadding":3}},
  "y2":{"field":"high"}}},
{"data":{"name":"bars"},
 "mark":{"type":"bar","size":2,"stroke":"#000000","strokeWidth":1},
 "encoding":{
  "x":{"field":"i","type":"quantitative","axis":null},
  "y":{"field":"open","type":"quantitative","title":null,"axis":{"orient":"right","values":[86.335,86.405,86.475,86.545,86.615,86.685,86.755,86.825,86.895,86.965,87.035,87.105,87.175,87.245,87.315,87.385,87.455,87.525,87.595,87.665,87.735],"format":".3f","labelOverlap":false,"labelSeparation":0,"zindex":0,"tickSize":3,"labelPadding":3}},
  "y2":{"field":"close"},
  "fill":{"condition":{"test":"datum.close > datum.open","value":"#deb887"},"value":"#000080"}}},
{"data":{"name":"arrows"},
 "mark":{"type":"point","shape":"triangle-left","size":36,"filled":true,"fill":"#008000","stroke":"#ffffff","strokeWidth":1,"opacity":1},
 "encoding":{
  "x":{"field":"x","type":"quantitative","axis":null},
  "y":{"field":"p","type":"quantitative","title":null,"axis":{"orient":"right","values":[86.335,86.405,86.475,86.545,86.615,86.685,86.755,86.825,86.895,86.965,87.035,87.105,87.175,87.245,87.315,87.385,87.455,87.525,87.595,87.665,87.735],"format":".3f","labelOverlap":false,"labelSeparation":0,"zindex":0,"tickSize":3,"labelPadding":3}}}},
{"data":{"name":"notes"},
 "mark":{"type":"text","color":"#1a801a","fontSize":17,"align":"left","baseline":"middle","font":"Liberation Sans"},
 "encoding":{
  "x":{"field":"x","type":"quantitative","axis":null},
  "y":{"field":"p","type":"quantitative","title":null,"axis":{"orient":"right","values":[86.335,86.405,86.475,86.545,86.615,86.685,86.755,86.825,86.895,86.965,87.035,87.105,87.175,87.245,87.315,87.385,87.455,87.525,87.595,87.665,87.735],"format":".3f","labelOverlap":false,"labelSeparation":0,"zindex":0,"tickSize":3,"labelPadding":3}},
  "text":{"field":"label"}}},
{"data":{"values":[{}]},
 "mark":{"type":"text","text":"▼ AUDJPY,M5  87.355 87.357 87.316 87.326","fontSize":9.5,"align":"left","baseline":"middle","color":"#000000","font":"Liberation Sans"},
 "encoding":{
  "x":{"datum":0.9,"type":"quantitative","axis":null},
  "y":{"datum":87.755,"type":"quantitative","title":null,"axis":{"orient":"right","values":[86.335,86.405,86.475,86.545,86.615,86.685,86.755,86.825,86.895,86.965,87.035,87.105,87.175,87.245,87.315,87.385,87.455,87.525,87.595,87.665,87.735],"format":".3f","labelOverlap":false,"labelSeparation":0,"zindex":0,"tickSize":3,"labelPadding":3}}}},
{"data":{"values":[{}]},
 "mark":{"type":"point","shape":"M-1,-0.33H1V0.33H-1Z","size":1225,"filled":true,"fill":"#000000","strokeWidth":0,"opacity":1},
 "encoding":{
  "x":{"datum":377.6,"type":"quantitative","axis":null},
  "y":{"datum":87.326,"type":"quantitative","title":null,"axis":{"orient":"right","values":[86.335,86.405,86.475,86.545,86.615,86.685,86.755,86.825,86.895,86.965,87.035,87.105,87.175,87.245,87.315,87.385,87.455,87.525,87.595,87.665,87.735],"format":".3f","labelOverlap":false,"labelSeparation":0,"zindex":0,"tickSize":3,"labelPadding":3}}}},
{"data":{"values":[{}]},
 "mark":{"type":"text","text":"87.326","fontSize":9,"align":"center","baseline":"middle","color":"#f0dcb8","font":"Liberation Sans"},
 "encoding":{
  "x":{"datum":377.6,"type":"quantitative","axis":null},
  "y":{"datum":87.326,"type":"quantitative","title":null,"axis":{"orient":"right","values":[86.335,86.405,86.475,86.545,86.615,86.685,86.755,86.825,86.895,86.965,87.035,87.105,87.175,87.245,87.315,87.385,87.455,87.525,87.595,87.665,87.735],"format":".3f","labelOverlap":false,"labelSeparation":0,"zindex":0,"tickSize":3,"labelPadding":3}}}}
]
},
{
"width":1492,"height":93,
"layer":[
{"data":{"name":"bars"},
 "transform":[{"window":[{"op":"lag","field":"osma","as":"prev"}],"sort":[{"field":"i"}]}],
 "mark":{"type":"bar","size":3},
 "encoding":{
  "x":{"field":"i","type":"quantitative","title":null,"scale":{"domain":[-0.375,372.625],"nice":false,"zero":false,"padding":0},
   "axis":{"values":[0,16,32,48,64,80,96,112,128,144,160,176,192,208,224,240,256,272,288],
    "labelExpr":"['27 Aug 2013','27 Aug 19:40','27 Aug 21:00','27 Aug 22:20','27 Aug 23:40','28 Aug 01:00','28 Aug 02:20','28 Aug 03:40','28 Aug 05:00','28 Aug 06:20','28 Aug 07:40','28 Aug 09:00','28 Aug 10:20','28 Aug 11:40','28 Aug 13:00','28 Aug 14:20','28 Aug 15:40','28 Aug 17:00','28 Aug 18:20'][round(datum.value/16)]",
    "labelAlign":"left","labelFlush":false,"labelOverlap":false,"labelBound":false,"labelPadding":2,"tickSize":3,"labelFontSize":9.5}},
  "y":{"field":"osma","type":"quantitative","title":null,"scale":{"domain":[-0.12756,0.13763],"nice":false,"zero":false,"padding":0},
   "axis":{"orient":"right","values":[-0.12756,0,0.13763],"labelExpr":"datum.value == 0 ? '0.00' : format(datum.value, '.5f')","labelFlush":true,"labelOverlap":false,"tickSize":3,"labelPadding":2,"labelFontSize":8.5}},
  "y2":{"datum":0},
  "color":{"condition":[
    {"test":"datum.osma >= 0 && (datum.prev == null || datum.osma >= datum.prev)","value":"#32cd32"},
    {"test":"datum.osma >= 0","value":"#006400"},
    {"test":"datum.prev == null || datum.osma < datum.prev","value":"#8b0000"}],
   "value":"#ff0000"}}},
{"data":{"name":"bars"},
 "mark":{"type":"line","color":"#800080","strokeWidth":1},
 "encoding":{
  "x":{"field":"i","type":"quantitative","title":null},
  "y":{"field":"signal","type":"quantitative","title":null}}},
{"data":{"name":"bars"},
 "mark":{"type":"line","color":"#0000ff","strokeWidth":2.5},
 "encoding":{
  "x":{"field":"i","type":"quantitative","title":null},
  "y":{"field":"macd","type":"quantitative","title":null}}},
{"data":{"values":[{}]},
 "mark":{"type":"text","text":"MACD_OsMA (12,26,9) 0.00000 0.00000 0.00000 -0.02185 0.06971 0.09156","fontSize":9.5,"align":"left","baseline":"middle","color":"#000000","font":"Liberation Sans"},
 "encoding":{
  "x":{"datum":0.875,"type":"quantitative","title":null},
  "y":{"datum":0.115,"type":"quantitative","title":null}}},
{"data":{"values":[{}]},
 "mark":{"type":"text","text":"MetaTrader, © 2001-2013, MetaQuotes Software Corp.","fontSize":9.5,"align":"left","baseline":"middle","color":"#000000","font":"Liberation Sans"},
 "encoding":{
  "x":{"datum":0.875,"type":"quantitative","title":null},
  "y":{"datum":-0.102,"type":"quantitative","title":null}}}
]
}
]
}
